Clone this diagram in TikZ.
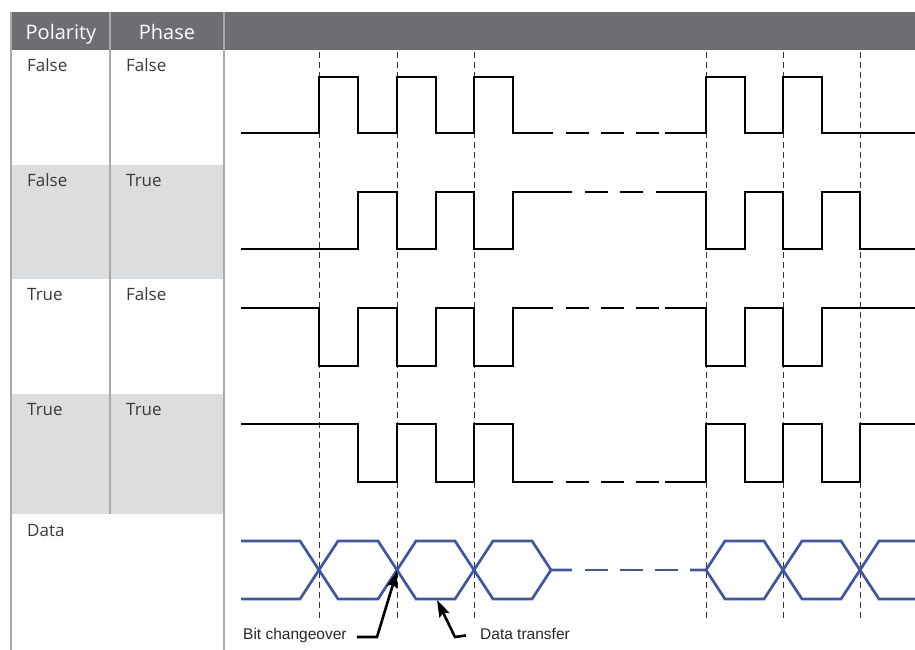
\documentclass[tikz,border=0pt]{standalone}
\usepackage{fontspec}
\setmainfont{Open Sans}
\newfontfamily\notefont{Liberation Sans}
\usetikzlibrary{arrows.meta}

\definecolor{headgray}{HTML}{6D6E71}
\definecolor{rowgray}{HTML}{DCDDDF}
\definecolor{rulegray}{HTML}{A7A9AC}
\definecolor{textgray}{HTML}{3A3A3C}
\definecolor{sigblue}{HTML}{3F55A5}

\begin{document}
\begin{tikzpicture}[x=1pt,y=-1pt,
  sig/.style={black,line width=2.7pt},
  eye/.style={sigblue,line width=2.7pt},
  gap/.style={dash pattern=on 23pt off 12pt},
  tick/.style={black!80,line width=0.9pt,dash pattern=on 6pt off 4pt},
  rule/.style={rulegray,line width=1.1pt},
  cell/.style={anchor=base west,inner sep=0pt,text=textgray,font=\fontsize{17}{20}\selectfont},
  head/.style={anchor=base,inner sep=0pt,text=white,font=\fontsize{20}{24}\selectfont},
  note/.style={anchor=base west,inner sep=0pt,text=black!85,font=\notefont\fontsize{15.5}{18}\selectfont},
  pointer/.style={black,line width=2.6pt,-{Stealth[length=17pt,width=11pt,inset=3pt]}}]
\useasboundingbox (0,0) rectangle (915,650);

% table
\fill[headgray] (11,12) rectangle (915,50);
\fill[rowgray] (11,165) rectangle (224,279);
\fill[rowgray] (11,394) rectangle (224,514);
\draw[rule] (11,12) -- (11,650);
\draw[rule] (110,12) -- (110,514);
\draw[rule] (224,12) -- (224,650);

\node[head] (polhead) at (61,40) {Polarity};
\node[head] (phahead) at (167,40) {Phase};

\node[cell] (pol1) at (27,71.5) {False};
\node[cell] (pha1) at (126,71.5) {False};
\node[cell] (pol2) at (27,186.5) {False};
\node[cell] (pha2) at (126,186.5) {True};
\node[cell] (pol3) at (27,300.5) {True};
\node[cell] (pha3) at (126,300.5) {False};
\node[cell] (pol4) at (27,415.5) {True};
\node[cell] (pha4) at (126,415.5) {True};
\node[cell] (data) at (27,536.5) {Data};

% bit boundaries
\draw[tick] (319,52) -- (319,618);
\draw[tick] (397,52) -- (397,618);
\draw[tick] (474,52) -- (474,618);
\draw[tick] (706,52) -- (706,618);
\draw[tick] (783,52) -- (783,618);
\draw[tick] (860,52) -- (860,618);

% False / False
\draw[sig] (241,133) -- (319,133) -- (319,77) -- (358,77) -- (358,133) -- (397,133) -- (397,77)
  -- (436,77) -- (436,133) -- (474,133) -- (474,77) -- (513,77) -- (513,133) -- (553,133);
\draw[sig,gap] (566,133) -- (659,133);
\draw[sig] (665,133) -- (706,133) -- (706,77) -- (745,77) -- (745,133) -- (783,133) -- (783,77)
  -- (822,77) -- (822,133) -- (915,133);

% False / True
\draw[sig] (241,249) -- (358,249) -- (358,192) -- (397,192) -- (397,249) -- (436,249) -- (436,192)
  -- (474,192) -- (474,249) -- (513,249) -- (513,192) -- (572,192);
\draw[sig,gap] (585,192) -- (643,192);
\draw[sig] (656,192) -- (706,192) -- (706,249) -- (745,249) -- (745,192) -- (783,192) -- (783,249)
  -- (822,249) -- (822,192) -- (860,192) -- (860,249) -- (915,249);

% True / False
\draw[sig] (241,308) -- (319,308) -- (319,366) -- (358,366) -- (358,308) -- (397,308) -- (397,366)
  -- (436,366) -- (436,308) -- (474,308) -- (474,366) -- (513,366) -- (513,308) -- (553,308);
\draw[sig,gap] (566,308) -- (659,308);
\draw[sig] (665,308) -- (706,308) -- (706,366) -- (745,366) -- (745,308) -- (783,308) -- (783,366)
  -- (822,366) -- (822,308) -- (915,308);

% True / True
\draw[sig] (241,424) -- (358,424) -- (358,482) -- (397,482) -- (397,424) -- (436,424) -- (436,482)
  -- (474,482) -- (474,424) -- (513,424) -- (513,482) -- (553,482);
\draw[sig,gap] (566,482) -- (659,482);
\draw[sig] (665,482) -- (706,482) -- (706,424) -- (745,424) -- (745,482) -- (783,482) -- (783,424)
  -- (822,424) -- (822,482) -- (860,482) -- (860,424) -- (915,424);

% data eye
\draw[eye] (241,541) -- (300,541) -- (338,599) -- (378,599) -- (416,541) -- (455,541) -- (493,599)
  -- (532,599) -- (551,570) -- (572,570);
\draw[eye] (241,599) -- (300,599) -- (338,541) -- (378,541) -- (416,599) -- (455,599) -- (493,541)
  -- (532,541) -- (551,570);
\draw[eye,gap] (585,570) -- (678,570);
\draw[eye] (690,570) -- (706,570) -- (725,541) -- (764,541) -- (802,599) -- (841,599) -- (879,541)
  -- (915,541);
\draw[eye] (706,570) -- (725,599) -- (764,599) -- (802,541) -- (841,541) -- (879,599) -- (915,599);

% callouts
\coordinate (xover) at (397,571);
\coordinate (bitbend) at (377,637);
\coordinate (flat) at (437,600);
\coordinate (databend) at (455,637);
\node[note] (bitlbl) at (243,639) {Bit changeover};
\node[note] (datalbl) at (480,639) {Data transfer};

\draw[pointer] ([xshift=10pt,yshift=-2pt]bitlbl.east) -- (bitbend) -- (xover);
\draw[pointer] ([xshift=-14pt,yshift=-2pt]datalbl.west) -- (databend) -- (flat);
\end{tikzpicture}
\end{document}
